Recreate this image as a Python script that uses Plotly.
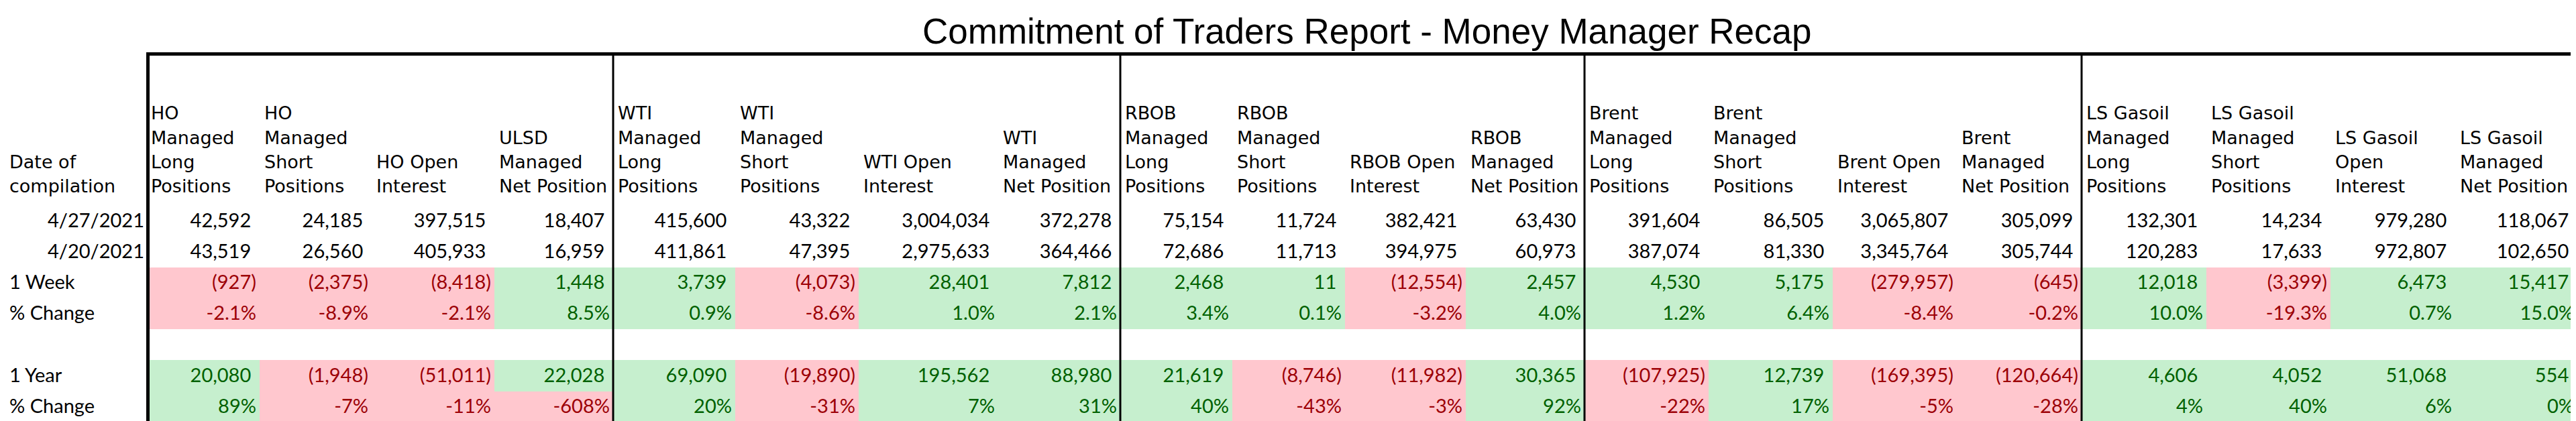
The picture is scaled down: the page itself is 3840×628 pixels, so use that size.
import plotly.graph_objects as go

# ---------------- data ----------------
TITLE = "Commitment of Traders Report - Money Manager Recap"
DATE_HEADER = ["Date of", "compilation"]
HEADERS = [
    ["HO", "Managed", "Long", "Positions"],
    ["HO", "Managed", "Short", "Positions"],
    ["HO Open", "Interest"],
    ["ULSD", "Managed", "Net Position"],
    ["WTI", "Managed", "Long", "Positions"],
    ["WTI", "Managed", "Short", "Positions"],
    ["WTI Open", "Interest"],
    ["WTI", "Managed", "Net Position"],
    ["RBOB", "Managed", "Long", "Positions"],
    ["RBOB", "Managed", "Short", "Positions"],
    ["RBOB Open", "Interest"],
    ["RBOB", "Managed", "Net Position"],
    ["Brent", "Managed", "Long", "Positions"],
    ["Brent", "Managed", "Short", "Positions"],
    ["Brent Open", "Interest"],
    ["Brent", "Managed", "Net Position"],
    ["LS Gasoil", "Managed", "Long", "Positions"],
    ["LS Gasoil", "Managed", "Short", "Positions"],
    ["LS Gasoil", "Open", "Interest"],
    ["LS Gasoil", "Managed", "Net Position"],
]
ROW_LABELS = ["4/27/2021", "4/20/2021", "1 Week", "% Change", "", "1 Year", "% Change"]

CURRENT = [42592, 24185, 397515, 18407, 415600, 43322, 3004034, 372278,
           75154, 11724, 382421, 63430, 391604, 86505, 3065807, 305099,
           132301, 14234, 979280, 118067]
PREVIOUS = [43519, 26560, 405933, 16959, 411861, 47395, 2975633, 364466,
            72686, 11713, 394975, 60973, 387074, 81330, 3345764, 305744,
            120283, 17633, 972807, 102650]
WEEK_CHG = [-927, -2375, -8418, 1448, 3739, -4073, 28401, 7812,
            2468, 11, -12554, 2457, 4530, 5175, -279957, -645,
            12018, -3399, 6473, 15417]
WEEK_PCT = [-2.1, -8.9, -2.1, 8.5, 0.9, -8.6, 1.0, 2.1,
            3.4, 0.1, -3.2, 4.0, 1.2, 6.4, -8.4, -0.2,
            10.0, -19.3, 0.7, 15.0]
YEAR_CHG = [20080, -1948, -51011, 22028, 69090, -19890, 195562, 88980,
            21619, -8746, -11982, 30365, -107925, 12739, -169395, -120664,
            4606, 4052, 51068, 554]
YEAR_PCT = [89, -7, -11, -608, 20, -31, 7, 31,
            40, -43, -3, 92, -22, 17, -5, -28,
            4, 40, 6, 0]

# ---------------- layout / style ----------------
W, H = 3840, 628
COL_EDGES = [210, 379, 546, 729, 906, 1088, 1272, 1480, 1662, 1829, 1997,
             2177, 2354, 2539, 2724, 2909, 3095, 3281, 3466, 3652, 3834]
GROUP_IDX = [4, 8, 12, 16]
ROW_TOP, ROW_H, N_ROWS = 298.0, 46.29, 7
TEXT_UP = 21          # text centre above row bottom
TOP_BORDER_Y = 72.5
HDR_BASE, HDR_PITCH, HDR_CAP = 282, 36.3, 9.5

PINK, GREEN = "#FFC7CE", "#C6EFCE"
RED_TXT, GREEN_TXT = "#9C0006", "#006100"
NUM_FONT = "Lato, Carlito, Calibri, sans-serif"
HDR_FONT = "DejaVu Sans, Verdana, sans-serif"
NUM_SIZE, HDR_SIZE = 29, 27

PAD = '<span style="color:rgba(0,0,0,0)">)</span>'


def fmt_num(v):
    return f"({abs(v):,})" if v < 0 else f"{v:,}{PAD}"


def fmt_pct1(v):
    return f"{v:.1f}%"


def fmt_pct0(v):
    return f"{v:.0f}%"


ROWS = [
    (CURRENT, fmt_num, False),
    (PREVIOUS, fmt_num, False),
    (WEEK_CHG, fmt_num, True),
    (WEEK_PCT, fmt_pct1, True),
    None,
    (YEAR_CHG, fmt_num, True),
    (YEAR_PCT, fmt_pct0, True),
]

row_edges = [ROW_TOP + i * ROW_H for i in range(N_ROWS + 1)]
row_text_y = [row_edges[i + 1] - TEXT_UP for i in range(N_ROWS)]

# heat-map fills
z = []
for r in ROWS:
    if r is None or not r[2]:
        z.append([None] * len(CURRENT))
    else:
        z.append([1 if v >= 0 else -1 for v in r[0]])

fig = go.Figure()
fig.add_trace(go.Heatmap(
    x=COL_EDGES, y=row_edges, z=z,
    colorscale=[[0, PINK], [0.5, PINK], [0.5, GREEN], [1, GREEN]],
    zmin=-1, zmax=1, showscale=False, hoverinfo="skip",
))

# numeric cell text
xs, ys, ts, cs = [], [], [], []
for ri, r in enumerate(ROWS):
    if r is None:
        continue
    vals, fmt, cond = r
    for ci, v in enumerate(vals):
        xs.append(COL_EDGES[ci + 1] - 5)
        ys.append(row_text_y[ri])
        ts.append(fmt(v))
        cs.append((GREEN_TXT if v >= 0 else RED_TXT) if cond else "#000000")
fig.add_trace(go.Scatter(
    x=xs, y=ys, text=ts, mode="text", textposition="middle left",
    textfont=dict(family=NUM_FONT, size=NUM_SIZE, color=cs),
    hoverinfo="skip", showlegend=False,
))

# row labels (dates right aligned, others left aligned)
date_x, date_y, date_t = [], [], []
lab_x, lab_y, lab_t = [], [], []
for ri, lab in enumerate(ROW_LABELS):
    if not lab:
        continue
    if "/" in lab:
        date_x.append(COL_EDGES[0] - 3); date_y.append(row_text_y[ri]); date_t.append(lab)
    else:
        lab_x.append(6); lab_y.append(row_text_y[ri]); lab_t.append(lab)
fig.add_trace(go.Scatter(
    x=date_x, y=date_y, text=date_t, mode="text", textposition="middle left",
    textfont=dict(family=NUM_FONT, size=NUM_SIZE, color="#000"),
    hoverinfo="skip", showlegend=False,
))
fig.add_trace(go.Scatter(
    x=lab_x, y=lab_y, text=lab_t, mode="text", textposition="middle right",
    textfont=dict(family=NUM_FONT, size=NUM_SIZE, color="#000"),
    hoverinfo="skip", showlegend=False,
))

# header text, bottom aligned, one line per point
hx, hy, ht = [], [], []
for ci, lines in enumerate(HEADERS):
    n = len(lines)
    for li, line in enumerate(lines):
        hx.append(COL_EDGES[ci] + 7)
        hy.append(HDR_BASE - HDR_CAP - (n - 1 - li) * HDR_PITCH)
        ht.append(line)
for li, line in enumerate(DATE_HEADER):
    hx.append(6)
    hy.append(HDR_BASE - HDR_CAP - (len(DATE_HEADER) - 1 - li) * HDR_PITCH)
    ht.append(line)
fig.add_trace(go.Scatter(
    x=hx, y=hy, text=ht, mode="text", textposition="middle right",
    textfont=dict(family=HDR_FONT, size=HDR_SIZE, color="#000"),
    hoverinfo="skip", showlegend=False,
))

# title
fig.add_annotation(
    x=(COL_EDGES[0] + COL_EDGES[-1]) / 2 + 8, y=38, xref="x", yref="y",
    text=TITLE, showarrow=False, xanchor="center", yanchor="middle",
    font=dict(family="Liberation Sans, Arial, sans-serif", size=53, color="#000"),
)

# borders
shapes = []
bottom = row_edges[-1] + 2.5
for y in (TOP_BORDER_Y, bottom):
    shapes.append(dict(type="line", xref="x", yref="y", x0=COL_EDGES[0], x1=COL_EDGES[-1] + 3,
                       y0=y, y1=y, line=dict(color="#000", width=5)))
for x, wd in ((COL_EDGES[0] + 2.5, 5), (COL_EDGES[-1] + 0.5, 5)):
    shapes.append(dict(type="line", xref="x", yref="y", x0=x, x1=x,
                       y0=TOP_BORDER_Y, y1=bottom, line=dict(color="#000", width=wd)))
for gi in GROUP_IDX:
    x = COL_EDGES[gi]
    shapes.append(dict(type="line", xref="x", yref="y", x0=x, x1=x,
                       y0=TOP_BORDER_Y, y1=bottom, line=dict(color="#000", width=3)))

fig.update_layout(
    width=W, height=H, margin=dict(l=0, r=0, t=0, b=0),
    paper_bgcolor="white", plot_bgcolor="white",
    xaxis=dict(range=[0, W], visible=False, fixedrange=True),
    yaxis=dict(range=[H, 0], visible=False, fixedrange=True),
    shapes=shapes, showlegend=False,
)

fig.write_html("out.html")
